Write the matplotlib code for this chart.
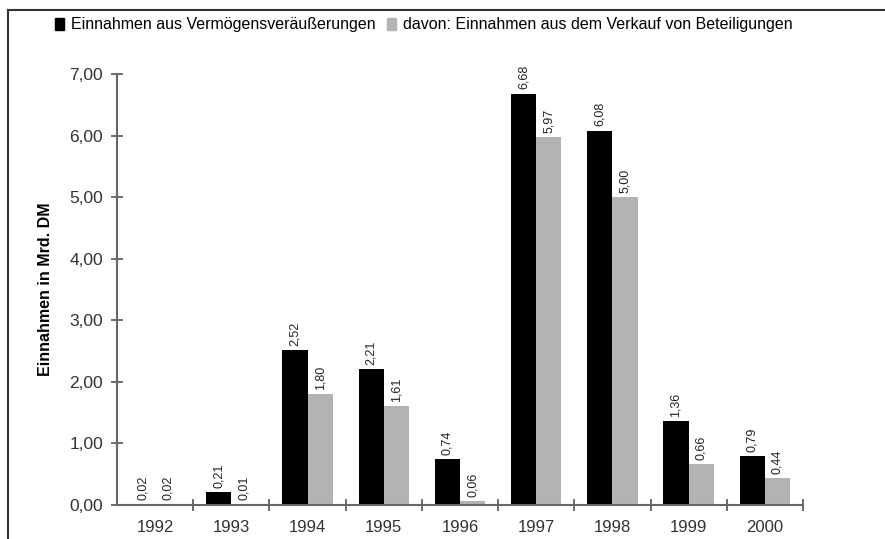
import numpy as np
import matplotlib
matplotlib.use('Agg')
import matplotlib.pyplot as plt
from matplotlib.lines import Line2D
from matplotlib.patches import Patch

plt.rcParams['font.family'] = ['Liberation Sans', 'DejaVu Sans']

jahre = ['1992', '1993', '1994', '1995', '1996', '1997', '1998', '1999', '2000']
einnahmen = [0.02, 0.21, 2.52, 2.21, 0.74, 6.68, 6.08, 1.36, 0.79]
beteiligungen = [0.02, 0.01, 1.80, 1.61, 0.06, 5.97, 5.00, 0.66, 0.44]
yticks = [0, 1, 2, 3, 4, 5, 6, 7]

def fmt(v):
    return f'{v:.2f}'.replace('.', ',')

fig = plt.figure(figsize=(8.85, 5.39), dpi=100)
# axes: x 117..803 px, y 505..74 px
ax = fig.add_axes([0.1322, 0.0631, 0.7751, 0.7997])

x = np.arange(len(jahre))
w = 0.33
b1 = ax.bar(x - w / 2, einnahmen, w, color='black')
b2 = ax.bar(x + w / 2, beteiligungen, w, color='#b3b3b3')

for rects, vals in [(b1, einnahmen), (b2, beteiligungen)]:
    for r, v in zip(rects, vals):
        ax.annotate(fmt(v), (r.get_x() + r.get_width() / 2, r.get_height()),
                    xytext=(0, 3), textcoords='offset points',
                    rotation=90, ha='center', va='bottom', fontsize=9,
                    color='#222222')

ax.set_xlim(-0.5, len(jahre) - 0.5)
ax.set_ylim(0, 7)
ax.set_yticks(yticks)
ax.set_yticklabels([fmt(v) for v in yticks], fontsize=12.5, color='#333333')
ax.set_xticks(x)
ax.set_xticklabels(jahre, fontsize=12, color='#333333')
ax.set_xticks(np.arange(0.5, len(jahre) + 0.5, 1), minor=True)
ax.tick_params(axis='x', which='major', length=0, pad=11)
ax.tick_params(axis='x', which='minor', direction='inout', length=8, width=1.2, color='#555555')
ax.tick_params(axis='y', direction='inout', length=8, width=1.2, color='#555555', pad=6)

for s in ['top', 'right']:
    ax.spines[s].set_visible(False)
for s in ['left', 'bottom']:
    ax.spines[s].set_color('#666666')
    ax.spines[s].set_linewidth(1.5)

ax.set_ylabel('Einnahmen in Mrd. DM', fontsize=11.5, fontweight='bold', labelpad=12)

handles = [Patch(color='black', label='Einnahmen aus Vermögensveräußerungen'),
           Patch(color='#b3b3b3', label='davon: Einnahmen aus dem Verkauf von Beteiligungen')]
fig.legend(handles=handles, loc='center left', bbox_to_anchor=(0.053, 0.954), ncol=2,
           frameon=False, fontsize=11.5, handlelength=0.6, handleheight=0.8,
           handletextpad=0.4, columnspacing=0.7, borderpad=0)

fig.add_artist(Line2D([0.009, 1.0], [0.981, 0.981], color='#333333', lw=1.5, transform=fig.transFigure))
fig.add_artist(Line2D([0.009, 0.009], [0.0, 0.981], color='#333333', lw=1.5, transform=fig.transFigure))

fig.savefig('out.png', dpi=100)
